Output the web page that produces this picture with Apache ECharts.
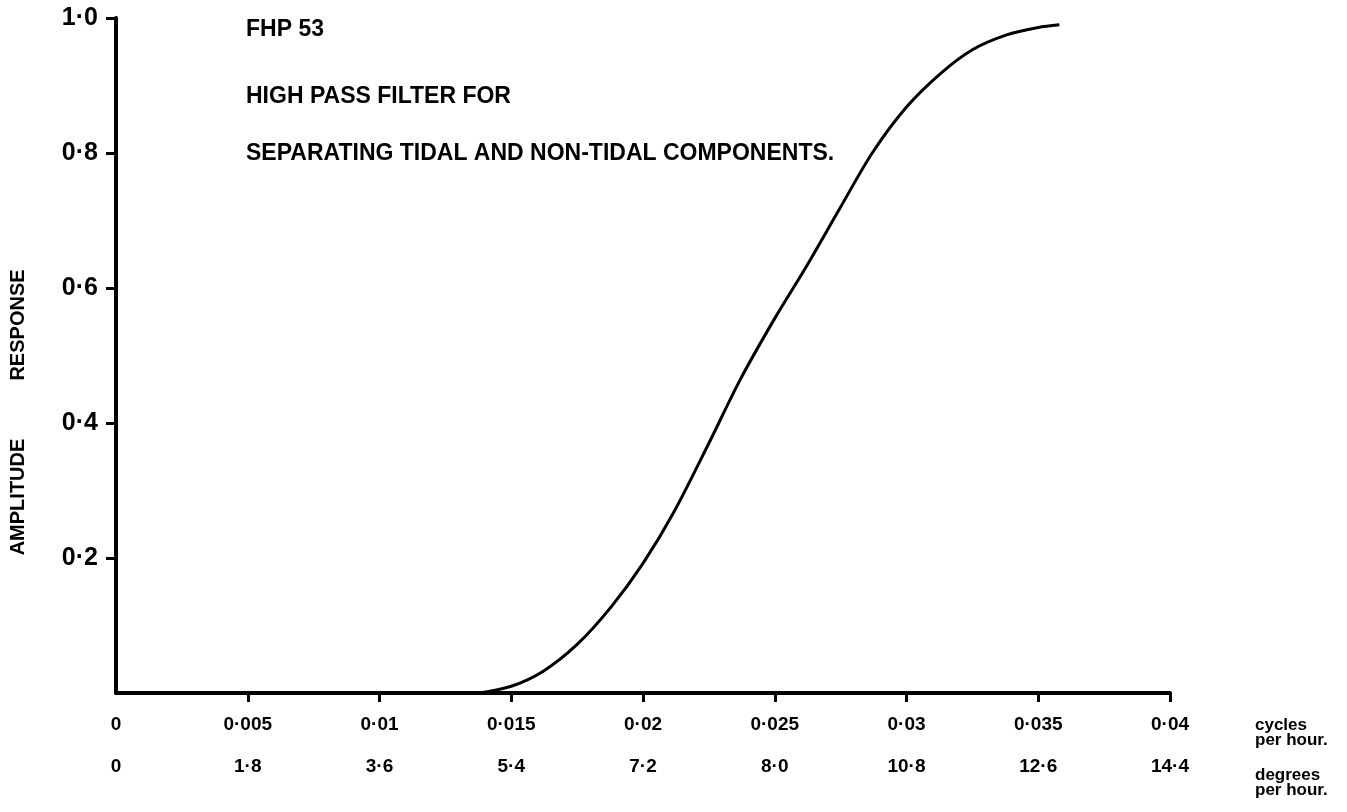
<!DOCTYPE html>
<html lang="en">
<head>
    <meta charset="UTF-8">
    <title>FHP 53</title>
    <script src="https://cdn.jsdelivr.net/npm/echarts@6/dist/echarts.min.js"></script>
    <style>
        html, body { margin: 0; padding: 0; background: #fff; }
    </style>
</head>
<body>
<div id="chartBox" style="width: 1347px; height: 812px;"></div>
</body>
<script>
  // tick labels, as written on the plot
  var cycleTicks = ['0', '0·005', '0·01', '0·015', '0·02', '0·025', '0·03', '0·035', '0·04'];
  var degreeTicks = ['0', '1·8', '3·6', '5·4', '7·2', '8·0', '10·8', '12·6', '14·4'];
  var responseTicks = ['0·2', '0·4', '0·6', '0·8', '1·0'];

  // filter response (cycles per hour -> amplitude)
  var frequency = [0.0138, 0.0150, 0.0162, 0.0175, 0.0188, 0.0200, 0.0212, 0.0225, 0.0237, 0.0250,
    0.0262, 0.0275, 0.0287, 0.0300, 0.0313, 0.0325, 0.0338, 0.0350, 0.0358];
  var response = [0, 0.010, 0.032, 0.072, 0.128, 0.192, 0.270, 0.370, 0.465, 0.555,
    0.632, 0.720, 0.800, 0.868, 0.918, 0.953, 0.975, 0.986, 0.990];

  var titleLines = ['FHP 53', 'HIGH PASS FILTER FOR', 'SEPARATING TIDAL AND NON-TIDAL COMPONENTS.'];

  var font = 'Liberation Sans, Arial, sans-serif';
  var step = 0.005;

  var curve = [];
  for (var i = 0; i < frequency.length; i++) {
    curve.push([frequency[i], response[i]]);
  }

  function tickValues(n, d) {
    var out = [];
    for (var k = 0; k < n; k++) out.push(+(k * d).toFixed(4));
    return out;
  }

  var chart = echarts.init(document.getElementById('chartBox'));

  var option = {
    backgroundColor: '#fff',
    animation: false,
    grid: {left: 116, right: 177, top: 18, bottom: 119},
    xAxis: [{
      type: 'value',
      min: 0,
      max: 0.04,
      interval: step,
      splitLine: {show: false},
      axisLine: {show: true, lineStyle: {color: '#000', width: 4}},
      axisTick: {
        show: true, length: 9, inside: false,
        customValues: tickValues(9, step).slice(1),
        lineStyle: {color: '#000', width: 3}
      },
      axisLabel: {
        customValues: tickValues(9, step),
        margin: 22,
        color: '#000',
        fontFamily: font,
        fontSize: 19,
        fontWeight: 'bold',
        formatter: function (v) {
          return cycleTicks[Math.round(v / step)];
        }
      }
    }, {
      type: 'value',
      position: 'bottom',
      offset: 0,
      min: 0,
      max: 0.04,
      interval: step,
      splitLine: {show: false},
      axisLine: {show: false},
      axisTick: {show: false},
      axisLabel: {
        customValues: tickValues(9, step),
        margin: 64,
        color: '#000',
        fontFamily: font,
        fontSize: 19,
        fontWeight: 'bold',
        formatter: function (v) {
          return degreeTicks[Math.round(v / step)];
        }
      }
    }],
    yAxis: {
      type: 'value',
      min: 0,
      max: 1,
      interval: 0.2,
      splitLine: {show: false},
      axisLine: {show: true, lineStyle: {color: '#000', width: 4}},
      axisTick: {
        show: true, length: 10,
        customValues: [0.2, 0.4, 0.6, 0.8, 1.0],
        lineStyle: {color: '#000', width: 3}
      },
      axisLabel: {
        customValues: [0.2, 0.4, 0.6, 0.8, 1.0],
        margin: 18,
        color: '#000',
        fontFamily: font,
        fontSize: 25,
        fontWeight: 'bold',
        formatter: function (v) {
          return responseTicks[Math.round(v / 0.2) - 1];
        }
      }
    },
    graphic: [
      {type: 'text', left: 246, top: 18, style: {text: titleLines[0], fill: '#000', font: 'bold 23px ' + font}},
      {type: 'text', left: 246, top: 85, style: {text: titleLines[1], fill: '#000', font: 'bold 23px ' + font}},
      {type: 'text', left: 246, top: 142, style: {text: titleLines[2], fill: '#000', font: 'bold 23px ' + font}},
      {type: 'text', x: 18, y: 497, rotation: Math.PI / 2,
        style: {text: 'AMPLITUDE', fill: '#000', font: 'bold 20px ' + font, align: 'center', verticalAlign: 'middle'}},
      {type: 'text', x: 18, y: 325, rotation: Math.PI / 2,
        style: {text: 'RESPONSE', fill: '#000', font: 'bold 20px ' + font, align: 'center', verticalAlign: 'middle'}},
      {type: 'text', left: 1255, top: 717, style: {text: 'cycles\nper hour.', fill: '#000', font: 'bold 17px ' + font, lineHeight: 15}},
      {type: 'text', left: 1255, top: 767, style: {text: 'degrees\nper hour.', fill: '#000', font: 'bold 17px ' + font, lineHeight: 15}}
    ],
    series: [{
      name: 'FHP 53',
      type: 'line',
      xAxisIndex: 0,
      data: curve,
      smooth: 0.3,
      showSymbol: false,
      symbol: 'none',
      lineStyle: {color: '#000', width: 3}
    }]
  };

  chart.setOption(option);
</script>
</html>
